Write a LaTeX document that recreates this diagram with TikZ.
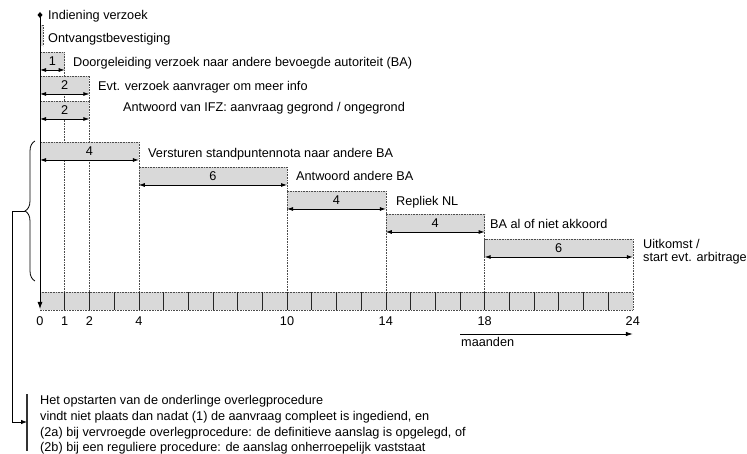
\documentclass[tikz,border=0pt]{standalone}
\usepackage{fontspec}
\setmainfont{Liberation Sans}
\usetikzlibrary{arrows.meta,decorations.pathreplacing}
\begin{document}
\begin{tikzpicture}[x=1pt,y=-1pt,
  every node/.style={font=\fontsize{12.7}{15.7}\selectfont, inner sep=0pt},
  barfill/.style={fill=gray!30},
  guide/.style={draw=gray!60!black, densely dotted, line width=0.6pt},
  dur/.style={{Latex[length=6pt,width=4pt]}-{Latex[length=6pt,width=4pt]}, line width=0.8pt},
  lbl/.style={anchor=base west},
  cellsep/.style={draw=gray!30!black, line width=0.6pt},
]
\useasboundingbox (0,0) rectangle (747,454);
\def\u{24.7}

% Ontvangstbevestiging thin bar
\fill[barfill] (40,25) rectangle (43,46);
\draw[guide] (40,25) -- (43,25) -- (43,46);

% duration bars (top / start / end / number / name / end of right guide)
\foreach \t/\a/\b/\n/\id/\g in {52/0/1/1/ra/292, 76/0/2/2/rb/101, 101/0/2/2/rc/292, 142/0/4/4/rd/292, 167/4/10/6/re/292, 191/10/14/4/rf/292, 214/14/18/4/rg/292, 239/18/24/6/rh/292} {
  \fill[barfill] ({40+\u*\a},\t) rectangle ({40+\u*\b},\t+18);
  \draw[guide] ({40+\u*\a},\t+18) -- ({40+\u*\a},\t) -- ({40+\u*\b},\t) -- ({40+\u*\b},\g);
  \node (\id n) at ({40+\u*(\a+\b)/2},\t+9.5) {\n};
  \coordinate (\id a) at ({40+\u*\a},\t+18);
  \coordinate (\id b) at ({40+\u*\b},\t+18);
  \draw[dur] (\id a) -- (\id b);
}

% timeline cells
\fill[barfill] (40,292) rectangle ({40+\u*24},310);
\draw[guide] (40,292) -- ({40+\u*24},292) -- ({40+\u*24},310) -- (40,310);
\foreach \i in {1,...,23} \draw[cellsep] ({40+\u*\i},292) -- ({40+\u*\i},310);

% tick labels
\foreach \m in {0,1,2,4,10,14,18,24}
  \node[anchor=base] (tick\m) at ({40+\u*\m},325.5) {\m};

% main vertical line
\coordinate (ltop) at (40,15);
\coordinate (lbot) at (40,309);
\draw[-{Latex[length=7pt,width=5pt]}, line width=0.9pt] (ltop) -- (lbot);
\fill (40,12) -- (42.5,15) -- (40,18) -- (37.5,15) -- cycle;

% labels
\node[lbl] (l0) at (48,19.5) {Indiening verzoek};
\node[lbl] (l1) at (48,42.5) {Ontvangstbevestiging};
\node[lbl] (l2) at (73,66.5) {Doorgeleiding verzoek naar andere bevoegde autoriteit (BA)};
\node[lbl] (l3) at (98,90.5) {Evt. verzoek aanvrager om meer info};
\node[lbl] (l4) at (123,111.5) {Antwoord van IFZ: aanvraag gegrond / ongegrond};
\node[lbl] (l5) at (148,157.5) {Versturen standpuntennota naar andere BA};
\node[lbl] (l6) at (296,180.5) {Antwoord andere BA};
\node[lbl] (l7) at (396,205.5) {Repliek NL};
\node[lbl] (l8) at (490,228.5) {BA al of niet akkoord};
\node[anchor=north west, align=left, font=\fontsize{12.7}{13}\selectfont] (l9) at (643,238.7) {Uitkomst /\\start evt. arbitrage};

% maanden arrow
\coordinate (ma) at (460,334);
\coordinate (mb) at ({40+\u*24},334);
\draw[-{Latex[length=7pt,width=4.5pt]}, line width=0.8pt] (ma) -- (mb);
\node[lbl] (maanden) at (461,346.5) {maanden};

% brace and note
\draw[line width=0.8pt, decorate, decoration={brace, amplitude=10pt}] (35,281) -- (35,141);
\coordinate (btip) at (25,211);
\coordinate (bar1) at (27,394);
\coordinate (bar2) at (27,451);
\draw[gray!40!black, line width=1.2pt] (bar1) -- (bar2);
\coordinate (arrend) at (27,422);
\draw[line width=0.8pt, -{Latex[length=6pt,width=4.5pt]}] (btip) -- (12,211) |- (arrend);
\node[anchor=north west, align=left] (note) at (40,395.4) {Het opstarten van de onderlinge overlegprocedure\\vindt niet plaats dan nadat (1) de aanvraag compleet is ingediend, en\\(2a) bij vervroegde overlegprocedure: de definitieve aanslag is opgelegd, of\\(2b) bij een reguliere procedure: de aanslag onherroepelijk vaststaat};
\end{tikzpicture}
\end{document}
